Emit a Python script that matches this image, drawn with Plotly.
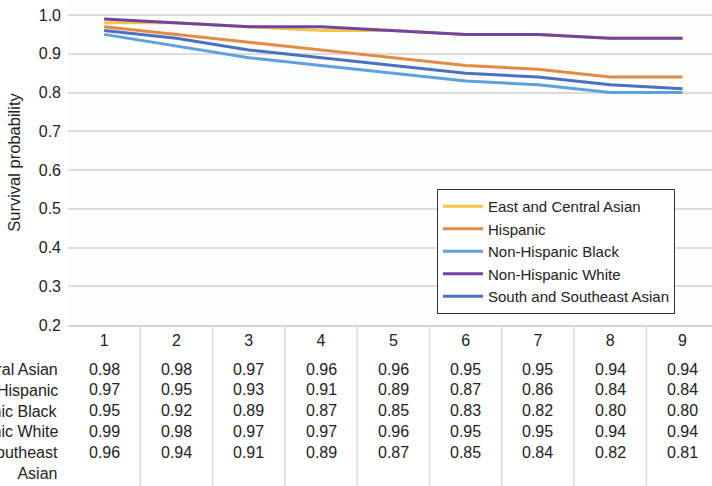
import plotly.graph_objects as go

categories = [1, 2, 3, 4, 5, 6, 7, 8, 9]
series_names = ["East and Central Asian", "Hispanic", "Non-Hispanic Black",
                "Non-Hispanic White", "South and Southeast Asian"]
east_central_asian = [0.98, 0.98, 0.97, 0.96, 0.96, 0.95, 0.95, 0.94, 0.94]
hispanic = [0.97, 0.95, 0.93, 0.91, 0.89, 0.87, 0.86, 0.84, 0.84]
nh_black = [0.95, 0.92, 0.89, 0.87, 0.85, 0.83, 0.82, 0.80, 0.80]
nh_white = [0.99, 0.98, 0.97, 0.97, 0.96, 0.95, 0.95, 0.94, 0.94]
south_se_asian = [0.96, 0.94, 0.91, 0.89, 0.87, 0.85, 0.84, 0.82, 0.81]
row_labels = ["East and Central Asian", "Hispanic", "Non-Hispanic Black",
              "Non-Hispanic White", "South and Southeast<br>Asian"]
y_ticks = [0.2, 0.3, 0.4, 0.5, 0.6, 0.7, 0.8, 0.9, 1.0]

all_values = [east_central_asian, hispanic, nh_black, nh_white, south_se_asian]
colors = ["#F3C646", "#E38A47", "#5EA2DC", "#7343A2", "#4A70BE"]

FONT = "Liberation Sans, Arial, sans-serif"
TXT = "#222222"

fig = go.Figure()
for name, vals, col in zip(series_names, all_values, colors):
    fig.add_trace(go.Scatter(x=categories, y=vals, mode="lines", name=name,
                             line=dict(color=col, width=3)))

# table below the chart
row_step = 20.8
for r, (lab, vals) in enumerate(zip(row_labels, all_values)):
    shift = -(44 + r * row_step)
    fig.add_annotation(x=0, y=0, xref="paper", yref="paper", text=lab,
                       xanchor="right", yanchor="top", align="right",
                       xshift=-8, yshift=shift + 10, showarrow=False,
                       font=dict(family=FONT, size=16, color=TXT))
    for c, v in zip(categories, vals):
        fig.add_annotation(x=c, y=0, xref="x", yref="paper", text=f"{v:.2f}",
                           xanchor="center", yanchor="middle", yshift=shift,
                           showarrow=False,
                           font=dict(family=FONT, size=16, color=TXT))

# column separators in the table
for c in categories[1:]:
    fig.add_shape(type="line", xref="x", yref="paper", x0=c - 0.5, x1=c - 0.5,
                  y0=0, y1=-0.5, line=dict(color="#dcdcdc", width=1.5),
                  layer="below")

fig.update_layout(
    width=712, height=486,
    margin=dict(l=68, r=0, t=0, b=161),
    paper_bgcolor="white", plot_bgcolor="#fcfdfd",
    font=dict(family=FONT, size=16, color=TXT),
    showlegend=True,
    legend=dict(x=(437 - 68) / 644, y=(325 - 189) / 325, xanchor="left", yanchor="top",
                bgcolor="white", bordercolor="#333333", borderwidth=1,
                font=dict(family=FONT, size=15, color=TXT),
                itemwidth=40, tracegroupgap=0),
    xaxis=dict(range=[0.5, 0.5 + 644 / 72.3], tickmode="array",
               tickvals=categories, ticktext=[str(c) for c in categories],
               showgrid=False, zeroline=False, showline=True, automargin=False,
               linecolor="#d6d6d6", linewidth=1.5, ticks="",
               tickfont=dict(family=FONT, size=16, color=TXT)),
    yaxis=dict(range=[0.2, 1.0 + 15 / 387], tickmode="array", tickvals=y_ticks,
               ticktext=[f"{t:.1f}" for t in y_ticks], automargin=False,
               showgrid=True, gridcolor="#dcdcdc", gridwidth=1.5,
               zeroline=False, ticks="", ticklabelstandoff=6,
               tickfont=dict(family=FONT, size=16, color=TXT),
               title=dict(text="Survival probability", standoff=13,
                          font=dict(family=FONT, size=16.5, color=TXT))),
)

fig.write_html("out.html", config={"displayModeBar": False},
               post_script="document.body.style.margin='0px';")
